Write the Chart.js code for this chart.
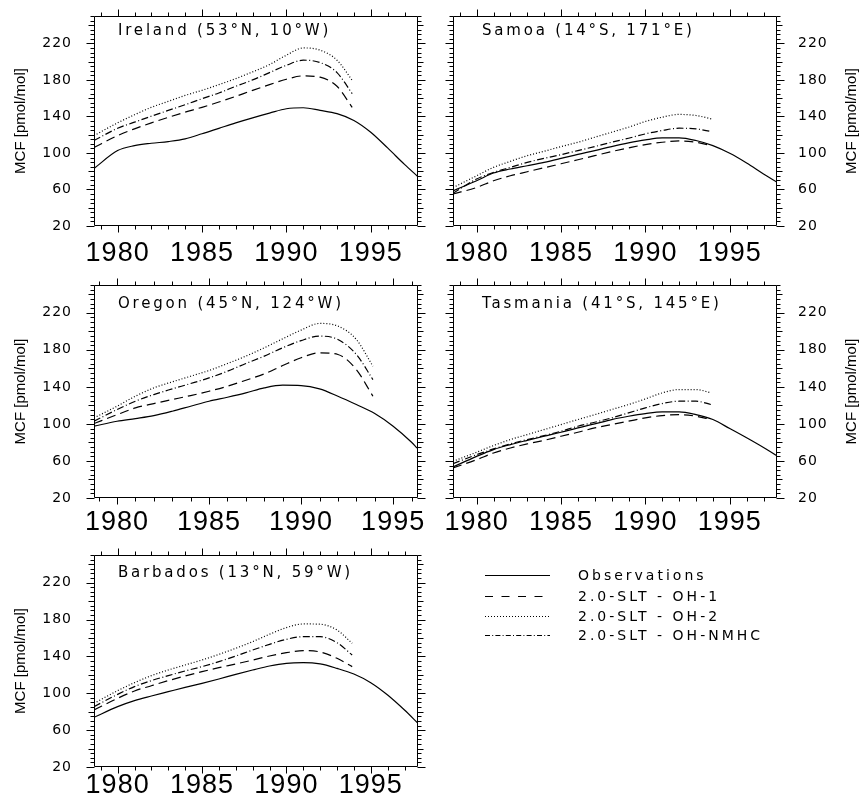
<!DOCTYPE html>
<html><head><meta charset="utf-8">
<script src="https://cdn.jsdelivr.net/npm/chart.js@4.4.1/dist/chart.umd.min.js"></script>
<style>
html,body{margin:0;padding:0;background:#fff;}
#page{position:relative;width:861px;height:800px;overflow:hidden;background:#fff;}
#page canvas{position:absolute;}
.leg{position:absolute;left:485px;height:20px;width:360px;}
.leg svg{position:absolute;left:0;top:0;}
.leg span{position:absolute;left:93px;top:0;line-height:20px;font-family:"DejaVu Sans";font-size:14px;letter-spacing:3px;white-space:pre;color:#000;}
</style></head><body><div id="page"></div>
<script>
// ---------- data ----------
const seriesNames = ['Observations', '2.0-SLT - OH-1', '2.0-SLT - OH-2', '2.0-SLT - OH-NMHC'];
const xTicks = [1980, 1985, 1990, 1995];
const yTicks = [20, 60, 100, 140, 180, 220];
const yTitle = 'MCF [pmol/mol]';

const obsYears        = [1978.6, 1980, 1981, 1982, 1983, 1984, 1985, 1986, 1987, 1988, 1989, 1990, 1991, 1992, 1993, 1994, 1995, 1996, 1997, 1997.8];
const obsYearsOregon  = [1978.75, 1980, 1981, 1982, 1983, 1984, 1985, 1986, 1987, 1988, 1989, 1990, 1991, 1992, 1993, 1994, 1995, 1996, 1996.3];
const modelYears      = [1978.6, 1980, 1981, 1982, 1983, 1984, 1985, 1986, 1987, 1988, 1989, 1990, 1991, 1992, 1993, 1993.9];
const modelYearsOregon= [1978.75, 1980, 1981, 1982, 1983, 1984, 1985, 1986, 1987, 1988, 1989, 1990, 1991, 1992, 1993, 1993.9];

const irelandObs  = [83, 102.6, 108, 110.6, 112.5, 115.4, 121, 127, 133, 138.5, 143.6, 148.4, 149.5, 146.6, 143, 135.6, 122.7, 105.5, 87.5, 74];
const irelandOH1  = [106, 119, 126.4, 133, 139, 144.7, 150, 155.8, 162, 168.6, 174.8, 180.7, 184.4, 183, 173, 150];
const irelandOH2  = [119, 133, 141.8, 150, 156.5, 163, 168.6, 174.8, 181.4, 188.8, 196.8, 207, 215, 212.6, 201.6, 179.6];
const irelandNMHC = [113.6, 127, 133.7, 140.3, 146.6, 152.8, 159.4, 165.7, 173, 180, 188, 196, 201.6, 199, 188, 165];

const samoaObs  = [58.5, 69.5, 78, 82.4, 86, 89.7, 94, 98.5, 102.6, 107, 111, 114.3, 116.5, 116.5, 113.6, 108, 99.6, 89, 77, 68];
const samoaOH1  = [55, 62.2, 69.5, 75, 79.4, 83.8, 88.2, 92.6, 97, 101.5, 105.5, 109.2, 111.7, 113.2, 111.7, 108];
const samoaOH2  = [62, 75, 84.2, 90.8, 97, 101.8, 107, 111.7, 117.2, 122.7, 128.2, 134.5, 139.2, 142.2, 141, 137.4];
const samoaNMHC = [56, 71.4, 78.7, 84.2, 89.7, 94.1, 98.1, 102.6, 107, 111.7, 116.1, 120.9, 124.6, 127.1, 126.4, 123.5];

const oregonObs  = [97.5, 102.9, 105.8, 109, 113.7, 119.1, 124.5, 128.8, 133.5, 138.9, 141.8, 141.4, 137.8, 129.9, 120.9, 111.2, 97.5, 80.2, 74];
const oregonOH1  = [100.4, 110, 117.3, 122, 126.3, 130.6, 135.3, 140.7, 147.2, 154, 163, 171.4, 176.8, 175, 158.7, 129.9];
const oregonOH2  = [106.5, 119.1, 129.9, 138.9, 145.4, 151.5, 157.7, 165.2, 173.2, 182.2, 191.9, 201.3, 208.5, 205.6, 191.2, 162.3];
const oregonNMHC = [102.9, 115.5, 124.5, 131.7, 137.8, 143.6, 149.7, 156.9, 165.2, 173.2, 182.2, 190, 194.8, 191.2, 175, 147.9];

const tasmaniaObs  = [53.5, 65, 72.3, 77.7, 82.3, 86.7, 91, 95.7, 100, 104.7, 108.3, 111.2, 113, 113, 110, 104.7, 95, 85, 74.5, 65.5];
const tasmaniaOH1  = [52.5, 61.4, 68.6, 74, 78.4, 82.3, 86.7, 91, 95.7, 99.3, 102.9, 106.5, 109, 110, 108.3, 104.7];
const tasmaniaOH2  = [59.6, 69.4, 76.6, 83.1, 88.5, 93.9, 99.3, 104.7, 110, 115.5, 120.9, 127, 133.5, 137.1, 137.1, 133.5];
const tasmaniaNMHC = [57.1, 66.8, 73, 78.4, 83.1, 87.4, 92.1, 97.5, 101.8, 106.5, 111.9, 117.3, 122, 124.5, 124.5, 120.9];

const barbadosObs  = [73.9, 85.5, 92, 97, 101.7, 106.4, 110.8, 115.5, 120.5, 125.2, 129.6, 132.5, 133.2, 131.8, 127, 120.9, 111.5, 98.1, 81.8, 67.4];
const barbadosOH1  = [81.8, 94.5, 102.5, 108.2, 113.7, 118.7, 123.4, 127.8, 131.8, 136, 140.4, 144, 146.2, 144.8, 137.9, 128.9];
const barbadosOH2  = [89.1, 102.8, 111.5, 119.1, 125.2, 130.7, 136.1, 142.2, 148.8, 156, 164, 171.2, 175.2, 174.9, 168.6, 154.2];
const barbadosNMHC = [85.5, 98.8, 107.2, 113.7, 119.1, 124.2, 128.9, 134.3, 140.4, 146.9, 153.1, 158.5, 161.4, 161.4, 154.9, 141.5];

const siteLabels = ['Ireland (53°N, 10°W)', 'Samoa (14°S, 171°E)', 'Oregon (45°N, 124°W)', 'Tasmania (41°S, 145°E)', 'Barbados (13°N, 59°W)'];

// ---------- layout / styles ----------
const lineDashes = [[], [9, 5], [1, 2], [7, 2.5, 1, 2.5]];
const legendDashes = ['', '8 8.5', '1 2', '5 2.2 1 2.2'];

const panels = [
  {label: siteLabels[0], side: 'left',  l: 94,  t: 16,  w: 324, h: 210, xMin: 1978.6,  xMax: 1997.8, dx: 24, dy: 19, xPad: 11,
   obsX: obsYears, modX: modelYears, series: [irelandObs, irelandOH1, irelandOH2, irelandNMHC]},
  {label: siteLabels[1], side: 'right', l: 453, t: 16,  w: 324, h: 210, xMin: 1978.6,  xMax: 1997.8, dx: 29, dy: 19, xPad: 11,
   obsX: obsYears, modX: modelYears, series: [samoaObs, samoaOH1, samoaOH2, samoaNMHC]},
  {label: siteLabels[2], side: 'left',  l: 94,  t: 285, w: 324, h: 213, xMin: 1978.75, xMax: 1996.35, dx: 24, dy: 23, xPad: 8,
   obsX: obsYearsOregon, modX: modelYearsOregon, series: [oregonObs, oregonOH1, oregonOH2, oregonNMHC]},
  {label: siteLabels[3], side: 'right', l: 453, t: 285, w: 324, h: 213, xMin: 1978.6,  xMax: 1997.8, dx: 29, dy: 23, xPad: 8,
   obsX: obsYears, modX: modelYears, series: [tasmaniaObs, tasmaniaOH1, tasmaniaOH2, tasmaniaNMHC]},
  {label: siteLabels[4], side: 'left',  l: 94,  t: 555, w: 324, h: 212, xMin: 1978.6,  xMax: 1997.8, dx: 24, dy: 22, xPad: 2,
   obsX: obsYears, modX: modelYears, series: [barbadosObs, barbadosOH1, barbadosOH2, barbadosNMHC]}
];

const page = document.getElementById('page');

const frameTicks = {
  id: 'frameTicks',
  beforeDraw(chart) { chart.ctx.letterSpacing = '1px'; },
  afterDraw(chart, args, opts) {
    const {ctx, chartArea: a, scales: {x, y}} = chart;
    const p = opts.panel;
    ctx.save();
    ctx.letterSpacing = '0px';
    ctx.strokeStyle = '#000';
    ctx.lineWidth = 1;
    const L = Math.round(a.left) + 0.5, R = Math.round(a.right) - 0.5;
    const T = Math.round(a.top) + 0.5, B = Math.round(a.bottom) - 0.5;
    ctx.beginPath();
    ctx.rect(L, T, R - L, B - T);
    // x ticks (outward, top and bottom)
    for (let yr = Math.ceil(x.min); yr <= x.max; yr++) {
      const px = Math.round(x.getPixelForValue(yr)) + 0.5;
      const len = yr % 5 === 0 ? 7 : 4;
      ctx.moveTo(px, B); ctx.lineTo(px, B + len);
      ctx.moveTo(px, T); ctx.lineTo(px, T - len);
    }
    // y ticks (outward, left and right)
    for (let v = 20; v <= 250; v += 5) {
      const py = Math.round(y.getPixelForValue(v)) + 0.5;
      const len = yTicks.includes(v) ? 8 : ((v - 20) % 20 === 0 ? 6 : 4);
      ctx.moveTo(L, py); ctx.lineTo(L - len, py);
      ctx.moveTo(R, py); ctx.lineTo(R + len, py);
    }
    ctx.stroke();
    // site label
    ctx.fillStyle = '#000';
    ctx.font = '15px "DejaVu Sans"';
    ctx.letterSpacing = '2.8px';
    ctx.textAlign = 'left';
    ctx.textBaseline = 'alphabetic';
    ctx.fillText(p.label, a.left + p.dx, a.top + p.dy);
    // y-axis title (reads bottom to top on both sides)
    ctx.letterSpacing = '0px';
    ctx.font = '15px "Liberation Sans"';
    const tx = p.side === 'left' ? 21 : 852 - p.cLeft;
    ctx.translate(tx, (a.top + a.bottom) / 2);
    ctx.rotate(-Math.PI / 2);
    ctx.textAlign = 'center';
    ctx.textBaseline = 'middle';
    ctx.fillText(yTitle, 0, 0);
    ctx.restore();
  }
};

function pts(xs, ys) { return xs.map((xv, i) => ({x: xv, y: ys[i]})); }

function makeChart(p) {
  const isRight = p.side === 'right';
  const padTop = 14, xAxisH = 50;
  let cLeft, cWidth, padL, padR, yW;
  if (!isRight) { cLeft = 0; cWidth = p.l + p.w + 22; padL = 0; padR = 22; yW = p.l; }
  else { cLeft = p.l - 22; cWidth = 861 - cLeft; padL = 22; padR = 0; yW = cWidth - 22 - p.w; }
  p.cLeft = cLeft;
  const cTop = p.t - padTop, cHeight = padTop + p.h + xAxisH;
  const cv = document.createElement('canvas');
  cv.width = cWidth; cv.height = cHeight;
  cv.style.left = cLeft + 'px'; cv.style.top = cTop + 'px';
  cv.style.width = cWidth + 'px'; cv.style.height = cHeight + 'px';
  page.appendChild(cv);

  const datasets = p.series.map((vals, i) => ({
    label: seriesNames[i],
    data: pts(i === 0 ? p.obsX : p.modX, vals),
    borderColor: '#000',
    borderWidth: 1.2,
    borderDash: lineDashes[i],
    pointRadius: 0,
    fill: false,
    cubicInterpolationMode: 'monotone'
  }));

  new Chart(cv, {
    type: 'line',
    data: {datasets},
    options: {
      responsive: false,
      animation: false,
      devicePixelRatio: 1,
      layout: {padding: {top: padTop, left: padL, right: padR, bottom: 0}},
      plugins: {legend: {display: false}, tooltip: {enabled: false}, frameTicks: {panel: p}},
      scales: {
        x: {
          type: 'linear', position: 'bottom', min: p.xMin, max: p.xMax,
          grid: {display: false, drawTicks: false}, border: {display: false},
          afterBuildTicks: s => { s.ticks = xTicks.map(v => ({value: v})); },
          afterFit: s => { s.height = xAxisH; s.paddingLeft = 0; s.paddingRight = 0; s.paddingTop = 0; s.paddingBottom = 0; },
          ticks: {autoSkip: false, maxRotation: 0, minRotation: 0, padding: p.xPad, color: '#000',
                  font: {family: 'Liberation Sans', size: 27}, callback: v => String(v)}
        },
        y: {
          type: 'linear', position: isRight ? 'right' : 'left', min: 20, max: 250,
          grid: {display: false, drawTicks: false}, border: {display: false},
          afterBuildTicks: s => { s.ticks = yTicks.map(v => ({value: v})); },
          afterFit: s => { s.width = yW; s.paddingLeft = 0; s.paddingRight = 0; s.paddingTop = 0; s.paddingBottom = 0; },
          ticks: {autoSkip: false, padding: isRight ? 21 : 22, color: '#000',
                  font: {family: 'DejaVu Sans', size: 14}, callback: v => String(v)}
        }
      }
    },
    plugins: [frameTicks]
  });
}

panels.forEach(makeChart);

// ---------- legend ----------
const legendRows = [575, 596, 616, 635];
seriesNames.forEach((name, i) => {
  const row = document.createElement('div');
  row.className = 'leg';
  row.style.top = (legendRows[i] - 10) + 'px';
  const dash = legendDashes[i] ? ` stroke-dasharray="${legendDashes[i]}"` : '';
  row.innerHTML = `<svg width="70" height="20"><line x1="0" y1="10.5" x2="65" y2="10.5" stroke="#000" stroke-width="1.2"${dash}/></svg>`;
  const sp = document.createElement('span');
  sp.textContent = name;
  row.appendChild(sp);
  page.appendChild(row);
});
</script>
</body></html>
